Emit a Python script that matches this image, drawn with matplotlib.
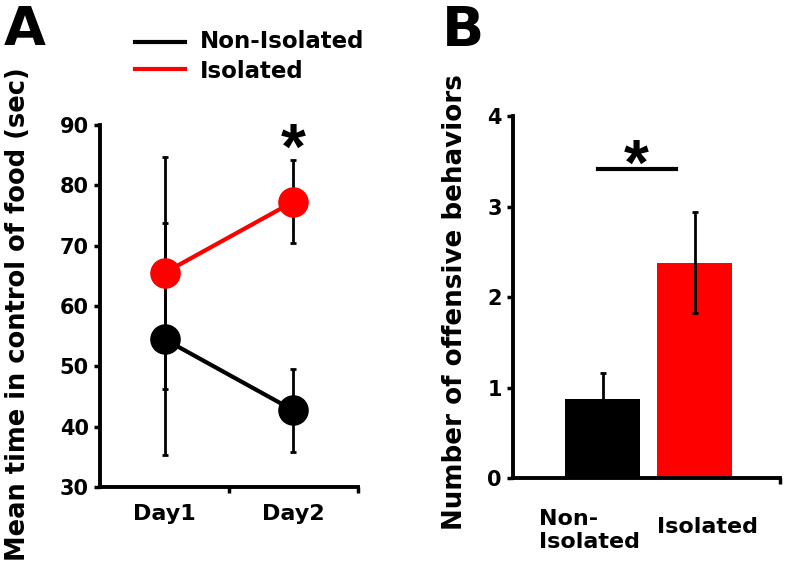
import matplotlib as mpl
mpl.use('Agg')
import numpy as np
import matplotlib.pyplot as plt
from matplotlib.lines import Line2D
from matplotlib.transforms import blended_transform_factory

plt.rcParams['font.family'] = ['DejaVu Sans']
plt.rcParams['font.weight'] = 'bold'

# panel A data: mean time in control of food (sec)
days = ['Day1', 'Day2']
non_iso_mean = [54.5, 42.7]
non_iso_err = [19.2, 6.9]
iso_mean = [65.5, 77.3]
iso_err = [19.2, 6.9]

# panel B data: number of offensive behaviors
groups = ['Non-\nIsolated', 'Isolated']
beh_mean = [0.88, 2.38]
beh_err = [0.28, 0.56]

W, H = 787, 566
fig = plt.figure(figsize=(W / 100, H / 100), dpi=100)

def px_axes(x0, x1, y0, y1):
    return fig.add_axes([x0 / W, 1 - y1 / H, (x1 - x0) / W, (y1 - y0) / H])

def style(ax):
    for s in ['top', 'right']:
        ax.spines[s].set_visible(False)
    for s in ['left', 'bottom']:
        ax.spines[s].set_linewidth(2.8)
    ax.tick_params(axis='y', width=2.5, length=4, labelsize=15, pad=4)

star = dict(ha='center', va='center', fontsize=46, family='Liberation Sans')

# ---- panel A ----
axA = px_axes(100, 358, 125, 487)
style(axA)
xs = np.array([1, 2])
axA.errorbar(xs, non_iso_mean, yerr=non_iso_err, color='black', lw=3,
             marker='o', ms=21, elinewidth=2, capsize=2.5, capthick=2, zorder=3)
axA.errorbar(xs, iso_mean, yerr=iso_err, color='#ff0000', lw=3, ecolor='black',
             marker='o', ms=21, elinewidth=2, capsize=2.5, capthick=2, zorder=4)
axA.set_xlim(0.5, 2.5)
axA.set_ylim(30, 90)
axA.set_yticks(range(30, 91, 10))
axA.set_xticks(xs)
axA.set_xticklabels(days)
axA.tick_params(axis='x', which='major', length=0, labelsize=16, pad=12)
axA.set_xticks([1.5, 2.5], minor=True)
axA.tick_params(axis='x', which='minor', length=4, width=2.5)
axA.text(2, 85.5, '*', **star)
fig.text(18 / W, 1 - 314 / H, 'Mean time in control of food (sec)', rotation=90,
         ha='center', va='center', fontsize=18.5)
fig.text(4 / W, 1 - 30 / H, 'A', ha='left', va='center', fontsize=39)

# legend
fig.add_artist(Line2D([135 / W, 185 / W], [1 - 42 / H] * 2, color='black', lw=3))
fig.add_artist(Line2D([135 / W, 185 / W], [1 - 69 / H] * 2, color='#ff0000', lw=3))
fig.text(200 / W, 1 - 42 / H, 'Non-Isolated', ha='left', va='center', fontsize=16.5)
fig.text(200 / W, 1 - 71 / H, 'Isolated', ha='left', va='center', fontsize=16.5)

# ---- panel B ----
axB = px_axes(513, 780, 116, 478.3)
style(axB)
bx = np.array([0, 1])
axB.bar(bx, beh_mean, width=0.81, color=['black', '#ff0000'], zorder=2)
axB.errorbar(bx, beh_mean, yerr=beh_err, fmt='none', ecolor='black',
             elinewidth=2, capsize=2.5, capthick=2, zorder=3)
axB.set_xlim(-0.971, 1.925)
axB.set_ylim(0, 4)
axB.set_yticks(range(0, 5))
axB.set_xticks([])
axB.set_xticks([1.925], minor=True)
axB.tick_params(axis='x', which='minor', length=4, width=2.5)
tr = blended_transform_factory(axB.transData, axB.transAxes)
axB.text(-0.146, -0.145, groups[0], transform=tr, ha='center', va='center',
         fontsize=16, multialignment='left')
axB.text(1.134, -0.135, groups[1], transform=tr, ha='center', va='center', fontsize=16)
axB.plot([-0.05, 0.795], [3.41, 3.41], color='black', lw=3, clip_on=False)
axB.text(0.363, 3.43, '*', **star)
fig.text(455 / W, 1 - 302 / H, 'Number of offensive behaviors', rotation=90,
         ha='center', va='center', fontsize=18.8)
fig.text(442 / W, 1 - 31 / H, 'B', ha='left', va='center', fontsize=40)

fig.savefig('out.png', dpi=100)
